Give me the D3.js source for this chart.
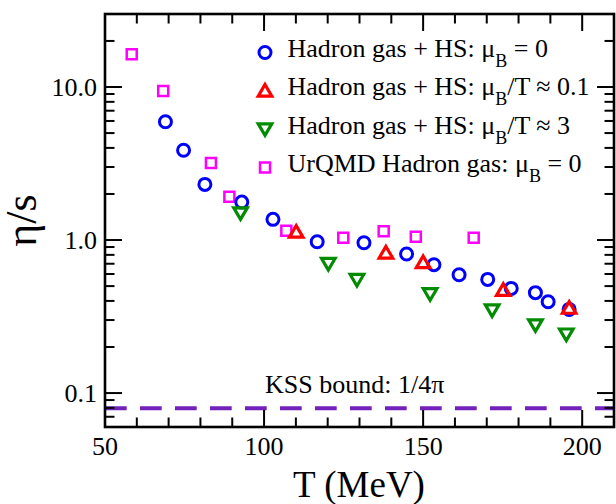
<!DOCTYPE html>
<html>
<head>
    <meta charset="utf-8">
    <title>Shear viscosity over entropy</title>
    <script src="https://cdn.jsdelivr.net/npm/d3@7"></script>
    <style>
        body {
            margin: 0;
            background: #fff;
        }
    </style>
</head>
<body>
    <script>
        // hadron gas + hard spheres, mu_B = 0
        const hsT = [69.0, 74.7, 81.4, 93.0, 102.8, 116.7, 131.4, 144.8, 153.4, 161.3, 170.3, 177.7, 185.3, 189.3, 195.9];
        const hsEta = [5.93, 3.86, 2.31, 1.77, 1.365, 0.975, 0.96, 0.81, 0.69, 0.593, 0.553, 0.483, 0.453, 0.395, 0.352];
        // mu_B/T ~ 0.1
        const lowMuT = [110.1, 138.3, 150.0, 175.2, 195.9];
        const lowMuEta = [1.13, 0.826, 0.715, 0.471, 0.36];
        // mu_B/T ~ 3
        const highMuT = [92.6, 120.2, 129.2, 152.2, 171.7, 185.3, 195.0];
        const highMuEta = [1.5, 0.70, 0.55, 0.444, 0.348, 0.278, 0.242];
        // UrQMD
        const urqmdT = [58.4, 68.3, 83.3, 89.1, 107.0, 124.9, 137.6, 147.7, 165.9];
        const urqmdEta = [16.4, 9.4, 3.19, 1.92, 1.15, 1.035, 1.14, 1.05, 1.035];

        const kssBound = 1 / (4 * Math.PI);
        const xMajor = [50, 100, 150, 200];
        const yMajor = [0.1, 1, 10];
        const yLabels = ["0.1", "1.0", "10.0"];

        const width = 616;
        const height = 504;
        const plotL = 105, plotR = 614, plotT = 14, plotB = 427;
        const majorLen = 17, minorLen = 9.5;

        const svg = d3.select('body')
            .append('svg')
            .attr('width', width)
            .attr('height', height)
            .style('font-family', "'Liberation Serif'")

        const x = d3.scaleLinear().domain([50, 210]).range([plotL, plotR]);
        const y = d3.scaleLog().domain([0.06, 30]).range([plotB, plotT]);

        const xMinor = d3.range(50, 211, 10).filter(v => v % 50 !== 0);
        const yMinor = [];
        [0.01, 0.1, 1, 10].forEach(d => {
            for (let k = 2; k <= 9; k++) {
                const v = d * k;
                if (v >= 0.06 && v <= 30.001) yMinor.push(v);
            }
        });

        // KSS bound
        svg.append('line')
            .attr('x1', plotL).attr('x2', plotR)
            .attr('y1', y(kssBound)).attr('y2', y(kssBound))
            .attr('stroke', '#7221bc')
            .attr('stroke-width', 4)
            .attr('stroke-dasharray', '21.7 13.3')
        svg.append('text')
            .attr('x', 265).attr('y', 393)
            .attr('font-size', 26)
            .text('KSS bound: 1/4\u03c0')

        // ticks, all four sides, pointing inward
        const ticks = svg.append('g').attr('stroke', '#000').attr('stroke-width', 2)
        function xTicks(vals, len) {
            vals.forEach(v => {
                ticks.append('line').attr('x1', x(v)).attr('x2', x(v)).attr('y1', plotB).attr('y2', plotB - len)
                ticks.append('line').attr('x1', x(v)).attr('x2', x(v)).attr('y1', plotT).attr('y2', plotT + len)
            })
        }
        function yTicks(vals, len) {
            vals.forEach(v => {
                ticks.append('line').attr('y1', y(v)).attr('y2', y(v)).attr('x1', plotL).attr('x2', plotL + len)
                ticks.append('line').attr('y1', y(v)).attr('y2', y(v)).attr('x1', plotR).attr('x2', plotR - len)
            })
        }
        xTicks(xMajor, majorLen)
        xTicks(xMinor, minorLen)
        yTicks(yMajor, majorLen)
        yTicks(yMinor, minorLen)

        svg.append('rect')
            .attr('x', plotL).attr('y', plotT)
            .attr('width', plotR - plotL).attr('height', plotB - plotT)
            .attr('fill', 'none')
            .attr('stroke', '#000')
            .attr('stroke-width', 2.6)

        // tick labels
        svg.selectAll('.xlab')
            .data(xMajor)
            .enter()
            .append('text')
            .attr('x', d => x(d))
            .attr('y', 455)
            .attr('text-anchor', 'middle')
            .attr('font-size', 26)
            .text(d => d)
        svg.selectAll('.ylab')
            .data(yMajor)
            .enter()
            .append('text')
            .attr('x', 97)
            .attr('y', d => y(d) + 9)
            .attr('text-anchor', 'end')
            .attr('font-size', 26)
            .text((d, i) => yLabels[i])

        // axis titles
        svg.append('text')
            .attr('x', 359).attr('y', 497)
            .attr('text-anchor', 'middle')
            .attr('font-size', 37)
            .text('T (MeV)')
        svg.append('text')
            .attr('transform', 'translate(36,' + ((plotT + plotB) / 2) + ') rotate(-90)')
            .attr('text-anchor', 'middle')
            .attr('font-size', 44)
            .text('\u03b7/s')

        // symbols
        const shapes = {
            circle: 'M6,0A6,6 0 1,1 -6,0A6,6 0 1,1 6,0Z',
            square: 'M-5,-5H5V5H-5Z',
            up: 'M0,-6.3L6.8,5.3H-6.8Z',
            down: 'M0,6.3L6.8,-5.3H-6.8Z'
        }
        const series = [
            { t: urqmdT, v: urqmdEta, shape: 'square', color: '#ff00ff', sw: 2.5 },
            { t: hsT, v: hsEta, shape: 'circle', color: '#0000ff', sw: 3 },
            { t: lowMuT, v: lowMuEta, shape: 'up', color: '#ff0000', sw: 3.2 },
            { t: highMuT, v: highMuEta, shape: 'down', color: '#008b00', sw: 3.2 }
        ]
        series.forEach(s => {
            svg.append('g')
                .selectAll('path')
                .data(s.t.map((t, i) => [t, s.v[i]]))
                .enter()
                .append('path')
                .attr('transform', d => 'translate(' + x(d[0]) + ',' + y(d[1]) + ')')
                .attr('d', shapes[s.shape])
                .attr('fill', 'none')
                .attr('stroke', s.color)
                .attr('stroke-width', s.sw)
        })

        // legend
        const legend = [
            { shape: 'circle', color: '#0000ff', sw: 3, pre: 'Hadron gas + HS: \u03bc', post: ' = 0' },
            { shape: 'up', color: '#ff0000', sw: 3.2, pre: 'Hadron gas + HS: \u03bc', post: '/T \u2248 0.1' },
            { shape: 'down', color: '#008b00', sw: 3.2, pre: 'Hadron gas + HS: \u03bc', post: '/T \u2248 3' },
            { shape: 'square', color: '#ff00ff', sw: 2.5, pre: 'UrQMD Hadron gas: \u03bc', post: ' = 0' }
        ]
        const leg = svg.append('g')
        legend.forEach((d, i) => {
            const cy = 52.5 + i * 38.3
            leg.append('path')
                .attr('transform', 'translate(265,' + cy + ')')
                .attr('d', shapes[d.shape])
                .attr('fill', 'none')
                .attr('stroke', d.color)
                .attr('stroke-width', d.sw)
            const t = leg.append('text')
                .attr('x', 287.5)
                .attr('y', cy + 4.5)
                .attr('font-size', 26)
            t.append('tspan').text(d.pre)
            t.append('tspan').attr('dy', 10).attr('font-size', 18).text('B')
            t.append('tspan').attr('dy', -10).text(d.post)
        })
    </script>
</body>
</html>
